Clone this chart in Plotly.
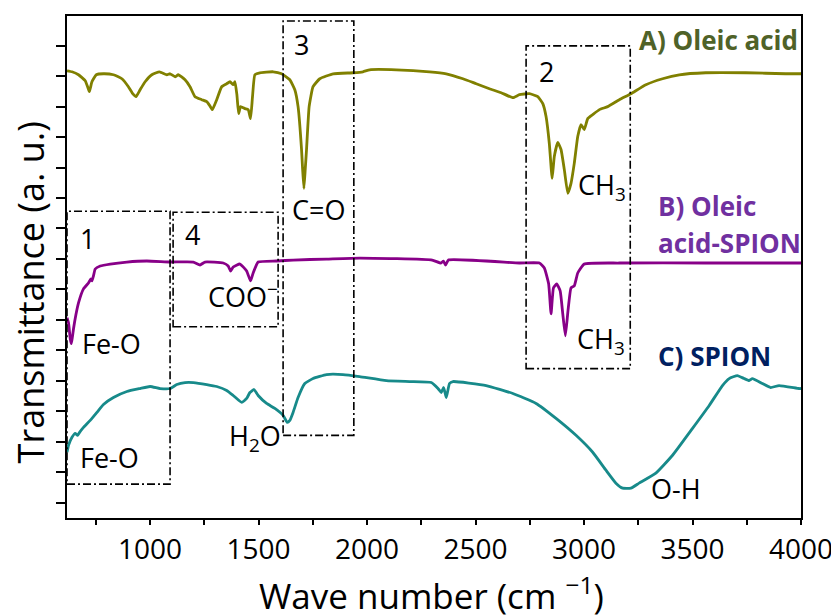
import plotly.graph_objects as go

# ---------------- data (wavenumber cm^-1, transmittance a.u.) ----------------
oleic_wn = [617, 640, 670, 701, 712, 720, 732, 752, 785, 831, 870, 900, 920, 935, 954, 977,
            1008, 1043, 1077, 1092, 1115, 1130, 1161, 1184, 1207, 1238, 1261, 1275, 1287, 1307,
            1330, 1353, 1368, 1383, 1391, 1400, 1408, 1417, 1437, 1452, 1463, 1472, 1483, 1506,
            1567, 1606, 1644, 1667, 1682, 1698, 1703, 1709, 1715, 1721, 1733, 1751, 1782, 1844,
            1936, 1981, 2012, 2135, 2288, 2365, 2442, 2503, 2564, 2618, 2672, 2702, 2748, 2787,
            2810, 2825, 2840, 2853, 2863, 2879, 2894, 2909, 2925, 2940, 2955, 2971, 2986, 3001,
            3017, 3040, 3071, 3109, 3163, 3216, 3285, 3362, 3439, 3561, 3745, 3929, 4000]
oleic_t = [44.9, 44.8, 44.5, 43.9, 43.3, 42.8, 43.8, 44.5, 44.6, 44.5, 44.1, 43.3, 42.6, 42.3, 43.0, 43.8,
           44.5, 44.8, 44.5, 44.6, 44.3, 44.5, 44.0, 43.3, 42.3, 42.0, 41.8, 41.4, 41.0, 42.0,
           43.3, 43.6, 43.8, 43.5, 43.8, 42.5, 40.6, 41.3, 41.1, 41.0, 40.1, 42.3, 44.5, 44.7,
           44.8, 44.6, 44.0, 43.0, 41.3, 37.0, 35.0, 33.1, 35.0, 37.0, 41.3, 43.3, 44.1, 44.6,
           44.7, 44.8, 45.0, 45.0, 44.8, 44.6, 44.1, 43.6, 43.1, 42.7, 42.2, 42.5, 42.6, 42.3,
           41.6, 40.3, 37.6, 34.1, 36.3, 37.7, 37.0, 35.0, 32.6, 33.6, 35.6, 38.3, 39.5, 39.0,
           40.1, 40.5, 41.0, 41.3, 42.0, 42.6, 43.5, 44.1, 44.5, 44.7, 44.7, 44.6, 44.6]

spion_oa_wn = [617, 624, 632, 637, 642, 647, 658, 670, 693, 716, 727, 732, 740, 747, 770, 816,
               893, 985, 1092, 1199, 1230, 1253, 1337, 1360, 1371, 1383, 1414, 1445, 1463, 1475,
               1498, 1583, 1659, 1813, 1966, 2300, 2340, 2352, 2362, 2375, 2702, 2794, 2817, 2837,
               2848, 2859, 2874, 2890, 2902, 2914, 2926, 2940, 2955, 2971, 3001, 3163, 3561, 4000]
spion_oa_t = [20.1, 19.6, 18.0, 17.5, 18.2, 19.0, 20.4, 21.6, 23.0, 23.6, 24.0, 23.8, 24.4, 25.0, 25.3, 25.5,
              25.7, 25.8, 25.7, 25.7, 25.4, 25.7, 25.6, 25.3, 24.8, 25.2, 25.5, 24.8, 23.8, 24.6,
              25.7, 25.8, 25.9, 26.0, 26.1, 25.9, 25.6, 25.8, 25.4, 25.9, 25.6, 25.6, 25.1, 23.5,
              20.5, 23.1, 23.5, 22.8, 20.5, 18.3, 20.8, 23.1, 23.3, 24.6, 25.5, 25.6, 25.6, 25.6]

spion_wn = [617, 624, 640, 655, 666, 675, 693, 724, 755, 785, 831, 893, 954, 1000, 1046, 1092,
            1123, 1161, 1199, 1261, 1307, 1353, 1383, 1422, 1445, 1460, 1479, 1498, 1537, 1575,
            1613, 1632, 1644, 1659, 1682, 1713, 1751, 1813, 1889, 1966, 2089, 2196, 2296, 2327,
            2342, 2353, 2365, 2380, 2396, 2549, 2672, 2779, 2871, 2963, 3040, 3101, 3147, 3178,
            3216, 3254, 3331, 3408, 3500, 3577, 3638, 3669, 3707, 3738, 3761, 3776, 3822, 3860,
            3899, 3991, 4000]
spion_t = [6.6, 7.3, 8.1, 8.5, 8.3, 8.6, 9.1, 9.8, 10.6, 11.4, 12.1, 12.7, 13.0, 13.2, 13.0, 13.0,
           13.4, 13.6, 13.6, 13.4, 13.2, 12.8, 12.3, 11.6, 12.0, 12.6, 12.9, 12.3, 11.5, 11.0,
           10.3, 9.6, 9.8, 10.6, 12.1, 13.5, 14.0, 14.4, 14.4, 14.2, 13.8, 13.7, 13.6, 13.0,
           12.6, 13.1, 12.1, 13.5, 13.7, 13.3, 12.5, 11.5, 10.0, 8.3, 6.6, 4.8, 3.5, 3.0,
           3.0, 3.5, 4.5, 6.3, 9.0, 11.3, 13.3, 14.0, 14.3, 14.0, 13.8, 14.0, 13.5, 13.1,
           13.3, 13.0, 13.0]

series_names = ["A) Oleic acid", "B) Oleic acid-SPION", "C) SPION"]
x_tick_vals = [1000, 1500, 2000, 2500, 3000, 3500, 4000]
x_tick_text = ["1000", "1500", "2000", "2500", "3000", "3500", "4000"]

# regions (boxes): x0, x1, y0, y1
box_labels = ["1", "4", "3", "2"]
box_x0 = [617, 1106, 1613, 2733]
box_x1 = [1092, 1590, 1939, 3213]
box_y0 = [3.4, 19.2, 8.3, 15.0]
box_y1 = [30.8, 30.7, 49.9, 47.4]

X_RANGE = [617, 4000]
Y_RANGE = [0, 50.4]

FONT = "Open Sans"
fig = go.Figure()

colors = ["#808000", "#880088", "#178A8A"]
for wn, t, name, c in zip([oleic_wn, spion_oa_wn, spion_wn],
                          [oleic_t, spion_oa_t, spion_t], series_names, colors):
    fig.add_trace(go.Scatter(x=wn, y=t, mode="lines", name=name,
                             line=dict(color=c, width=2.8, shape="spline", smoothing=0.4),
                             showlegend=False, hoverinfo="skip"))

# dash-dot region boxes
for x0, x1, y0, y1 in zip(box_x0, box_x1, box_y0, box_y1):
    fig.add_shape(type="rect", xref="x", yref="y", x0=x0, x1=x1, y0=y0, y1=y1,
                  line=dict(color="black", width=1.6, dash="8px,3px,2px,3px"),
                  fillcolor="rgba(0,0,0,0)")

ann = []
def txt(x, y, s, size=27, color="black", bold=False, xanchor="center"):
    if bold:
        s = "<b>" + s + "</b>"
    ann.append(dict(x=x, y=y, xref="x", yref="y", text=s, showarrow=False,
                    xanchor=xanchor, yanchor="middle",
                    font=dict(family=FONT, size=size, color=color)))

# box numbers
txt(712, 28.1, box_labels[0])
txt(1196, 28.5, box_labels[1])
txt(1698, 47.5, box_labels[2])
txt(2825, 44.8, box_labels[3])
# band labels
txt(1774, 31.0, "C=O")
txt(3085, 33.3, "CH<sub>3</sub>")
txt(3078, 17.8, "CH<sub>3</sub>")
txt(1428, 22.3, "COO<sup>−</sup>")
txt(822, 17.5, "Fe-O")
txt(814, 6.1, "Fe-O")
txt(1483, 8.1, "H<sub>2</sub>O")
txt(3423, 3.0, "O-H")
# series labels
txt(3244, 48.0, "A) Oleic acid", size=26, color="#4F6228", bold=True, xanchor="left")
txt(3331, 31.3, "B) Oleic", size=26, color="#7030A0", bold=True, xanchor="left")
txt(3331, 27.6, "acid-SPION", size=26, color="#7030A0", bold=True, xanchor="left")
txt(3331, 16.3, "C) SPION", size=26, color="#002060", bold=True, xanchor="left")

# axis titles
ann.append(dict(x=0.497, y=-0.150, xref="paper", yref="paper", showarrow=False,
                text="Wave number (cm <sup>−1</sup>)", xanchor="center", yanchor="middle",
                font=dict(family=FONT, size=35, color="black")))
ann.append(dict(x=-0.050, y=0.450, xref="paper", yref="paper", showarrow=False,
                text="Transmittance (a. u.)", textangle=-90, xanchor="center", yanchor="middle",
                font=dict(family=FONT, size=36, color="black")))

# page body has an 8px margin: size the figure to fill the rest of the 839x616 window
fig.update_layout(
    width=831, height=608,
    margin=dict(l=59, r=36, t=6, b=98),
    paper_bgcolor="white", plot_bgcolor="white",
    annotations=ann,
    font=dict(family=FONT, color="black"),
)
fig.update_xaxes(range=X_RANGE, showgrid=False, zeroline=False,
                 showline=True, linecolor="black", linewidth=2, mirror=True,
                 ticks="outside", ticklen=5, tickwidth=1.5, tickcolor="black",
                 tickvals=x_tick_vals, ticktext=x_tick_text,
                 minor=dict(ticks="outside", ticklen=5, tickwidth=1.5, tickcolor="black",
                            dtick=250, tick0=0, showgrid=False),
                 tickfont=dict(family=FONT, size=28, color="black"))
fig.update_yaxes(range=Y_RANGE, showgrid=False, zeroline=False,
                 showline=True, linecolor="black", linewidth=2, mirror=True,
                 ticks="outside", ticklen=9, tickwidth=1.5, tickcolor="black",
                 tick0=1.53, dtick=3.06, showticklabels=False)

fig.write_html("out.html")
